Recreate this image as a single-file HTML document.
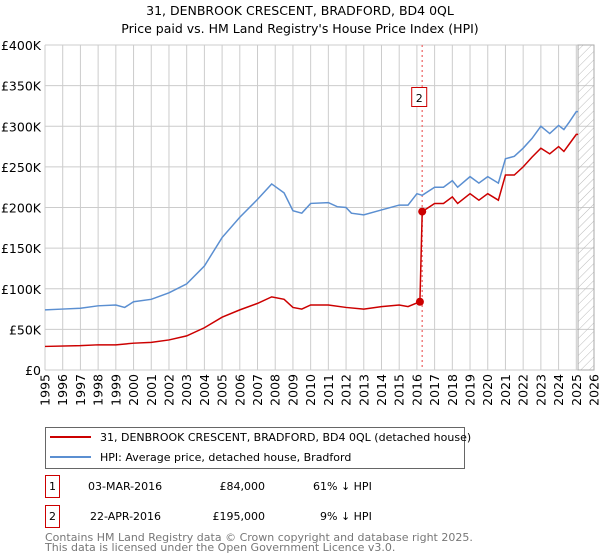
<!DOCTYPE html>
<html><head><meta charset="utf-8"><style>
body{margin:0;background:#fff;font-family:"Liberation Sans","DejaVu Sans",sans-serif}
svg{display:block}
</style></head><body>
<svg width="600" height="560" xmlns="http://www.w3.org/2000/svg" font-family="DejaVu Sans, Liberation Sans, sans-serif">
<defs><pattern id="hatch" width="6" height="6" patternUnits="userSpaceOnUse" patternTransform="rotate(45)"><line x1="0" y1="0" x2="0" y2="6" stroke="#bbb" stroke-width="1"/></pattern></defs>
<text x="300" y="15" text-anchor="middle" font-size="12.5">31, DENBROOK CRESCENT, BRADFORD, BD4 0QL</text>
<text x="300" y="33" text-anchor="middle" font-size="12.5">Price paid vs. HM Land Registry's House Price Index (HPI)</text>
<g id="grid"></g><g id="axes"></g><g id="series"></g>
<g>
<rect x="45.5" y="427.5" width="419" height="41" fill="#fff" stroke="#666"/>
<line x1="50" y1="437" x2="91" y2="437" stroke="#cc0000" stroke-width="2"/>
<text x="100" y="441" font-size="11">31, DENBROOK CRESCENT, BRADFORD, BD4 0QL (detached house)</text>
<line x1="50" y1="457" x2="91" y2="457" stroke="#5b8fd1" stroke-width="2"/>
<text x="100" y="461" font-size="11">HPI: Average price, detached house, Bradford</text>
</g>
<g font-size="11">
<rect x="45.5" y="475.5" width="14" height="22" fill="#fff" stroke="#cc0000"/><text x="52.5" y="490" text-anchor="middle">1</text>
<text x="88" y="490">03-MAR-2016</text><text x="265" y="490" text-anchor="end">£84,000</text><text x="313" y="490">61% ↓ HPI</text>
<rect x="45.5" y="505.5" width="14" height="22" fill="#fff" stroke="#cc0000"/><text x="52.5" y="520" text-anchor="middle">2</text>
<text x="90" y="520">22-APR-2016</text><text x="265" y="520" text-anchor="end">£195,000</text><text x="320" y="520">9% ↓ HPI</text>
</g>
<text x="45" y="541" font-size="11" fill="#777">Contains HM Land Registry data © Crown copyright and database right 2025.</text>
<text x="45" y="551" font-size="11" fill="#777">This data is licensed under the Open Government Licence v3.0.</text>
</svg>
<script>
const hpiYears=[1995,1996,1997,1998,1999,1999.5,2000,2001,2002,2003,2004,2005,2006,2007,2007.8,2008.5,2009,2009.5,2010,2011,2011.5,2012,2012.3,2013,2014,2015,2015.5,2016,2016.3,2017,2017.5,2018,2018.3,2019,2019.5,2020,2020.6,2021,2021.5,2022,2022.5,2023,2023.5,2024,2024.3,2024.6,2025,2025.1];
const hpiValues=[74,75,76,79,80,77,84,87,95,106,128,163,188,210,229,218,196,193,205,206,201,200,193,191,197,203,203,217,215,225,225,233,225,238,230,238,230,260,263,273,285,300,291,301,296,305,318,318];
const redYears=[1995,1997,1998,1999,2000,2001,2002,2003,2004,2005,2006,2007,2007.8,2008.5,2009,2009.5,2010,2011,2012,2013,2014,2015,2015.5,2016.17,2016.3,2017,2017.5,2018,2018.3,2019,2019.5,2020,2020.6,2021,2021.5,2022,2022.5,2023,2023.5,2024,2024.3,2024.6,2025,2025.1];
const redValues=[29,30,31,31,33,34,37,42,52,65,74,82,90,87,77,75,80,80,77,75,78,80,78,84,195,205,205,213,205,217,209,217,209,240,240,250,262,273,266,275,269,278,290,290];
const saleYears=[2016.17,2016.3];
const saleValues=[84,195];
const yTicks=[0,50,100,150,200,250,300,350,400];
const yTickLabels=["£0","£50K","£100K","£150K","£200K","£250K","£300K","£350K","£400K"];
const NS="http://www.w3.org/2000/svg";
const X=y=>45+(y-1995)*(549/31), Y=v=>370-v*(325/400);
function mk(t,a,p){const e=document.createElementNS(NS,t);for(const k in a)e.setAttribute(k,a[k]);p.appendChild(e);return e;}
const grid=document.getElementById('grid'),axes=document.getElementById('axes'),ser=document.getElementById('series');
for(let yr=1995;yr<=2026;yr++){const l=mk('line',{x1:X(yr),x2:X(yr),y1:Y(400),y2:Y(0),stroke:'#ccc'},grid);


const t=mk('text',{x:0,y:0,'font-size':12.5,'text-anchor':'end',transform:`translate(${X(yr)+4.5},374) rotate(-90)`},axes);t.textContent=yr;

}
yTicks.forEach((v,i)=>{const l=mk('line',{x1:45,x2:594,y1:Y(v),y2:Y(v),stroke:'#ccc'},grid);


const t=mk('text',{x:41,y:Y(v)+5,'font-size':12.5,'text-anchor':'end'},axes);t.textContent=yTickLabels[i];

});
const h=mk('rect',{x:X(2025.1),y:Y(400),width:594-X(2025.1),height:Y(0)-Y(400),fill:'url(#hatch)',stroke:'#aaa'},grid);


const vl=mk('line',{x1:X(2016.3),x2:X(2016.3),y1:Y(400),y2:Y(0),stroke:'#f08080','stroke-dasharray':'2,3','stroke-width':1.5},grid);


const hp=mk('polyline',{points:hpiYears.map((y,i)=>X(y)+','+Y(hpiValues[i])).join(' '),fill:'none',stroke:'#5b8fd1','stroke-width':1.5},ser);


const rp=mk('polyline',{points:redYears.map((y,i)=>X(y)+','+Y(redValues[i])).join(' '),fill:'none',stroke:'#cc0000','stroke-width':1.5},ser);


saleYears.forEach((y,i)=>{const c=mk('circle',{cx:X(y),cy:Y(saleValues[i]),r:4,fill:'#cc0000'},ser);

});
const b=mk('rect',{x:X(2016.3)-10.5,y:87.5,width:15,height:19,fill:'#fff',stroke:'#cc0000'},ser);


const bt=mk('text',{x:X(2016.3)-3,y:102,'font-size':11,'text-anchor':'middle'},ser);bt.textContent='2';


</script>
</body></html>
